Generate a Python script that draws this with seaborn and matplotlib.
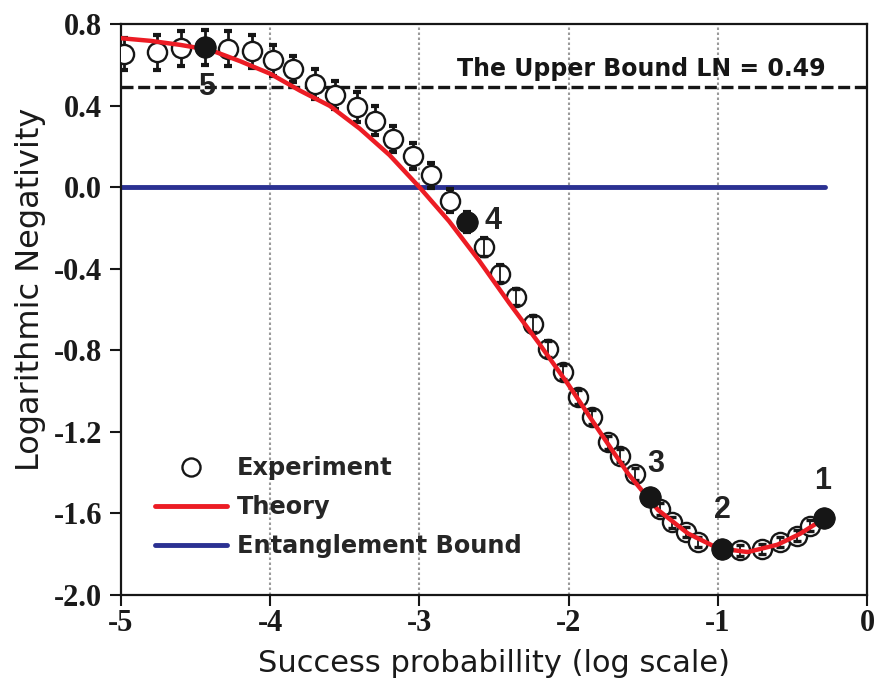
import matplotlib
matplotlib.use("Agg")
import matplotlib.pyplot as plt
from matplotlib.lines import Line2D
import seaborn as sns

# Measured logarithmic negativity versus log10(success probability)
exp_logp = [-4.98, -4.76, -4.60, -4.44, -4.28, -4.12, -3.98, -3.845, -3.70, -3.565,
            -3.42, -3.30, -3.175, -3.04, -2.92, -2.795, -2.68, -2.57, -2.46, -2.35,
            -2.24, -2.135, -2.035, -1.935, -1.84, -1.735, -1.655, -1.555, -1.455, -1.39,
            -1.31, -1.21, -1.13, -0.975, -0.85, -0.705, -0.585, -0.47, -0.38, -0.29]
exp_ln = [0.653, 0.661, 0.681, 0.686, 0.678, 0.665, 0.621, 0.580, 0.506, 0.452,
          0.392, 0.326, 0.237, 0.152, 0.057, -0.066, -0.172, -0.294, -0.425, -0.539,
          -0.670, -0.793, -0.907, -1.030, -1.127, -1.250, -1.316, -1.405, -1.520, -1.577,
          -1.642, -1.691, -1.740, -1.773, -1.781, -1.776, -1.740, -1.708, -1.659, -1.620]
exp_err = [0.080, 0.085, 0.085, 0.085, 0.085, 0.080, 0.075, 0.065, 0.075, 0.068,
           0.075, 0.070, 0.065, 0.065, 0.060, 0.055, 0.050, 0.045, 0.042, 0.040,
           0.040, 0.038, 0.036, 0.035, 0.034, 0.032, 0.030, 0.030, 0.028, 0.028,
           0.027, 0.026, 0.026, 0.025, 0.025, 0.025, 0.025, 0.025, 0.025, 0.025]

# Highlighted experimental points and their numbering
marked_idx = [39, 33, 28, 16, 3]
marked_labels = ["1", "2", "3", "4", "5"]
marked_offsets = [(-1, 26.5), (1, 28), (4, 24), (18.5, 1), (1.5, -29)]

# Theoretical curve
theory_logp = [-5.0, -4.8, -4.6, -4.4, -4.2, -4.0, -3.8, -3.6, -3.4, -3.2,
               -3.0, -2.8, -2.6, -2.4, -2.2, -2.0, -1.8, -1.6, -1.4, -1.2,
               -1.0, -0.8, -0.6, -0.45, -0.32]
theory_ln = [0.730, 0.717, 0.697, 0.672, 0.617, 0.556, 0.473, 0.398, 0.287, 0.157,
             0.0, -0.168, -0.360, -0.566, -0.764, -0.970, -1.190, -1.406, -1.583, -1.698,
             -1.770, -1.789, -1.753, -1.700, -1.640]

# Entanglement bound (LN = 0) and the upper bound
bound_logp = [-5.0, -0.28]
bound_ln = [0.0, 0.0]
upper_bound = 0.49

x_ticks = [-5, -4, -3, -2, -1, 0]
x_ticklabels = ["-5", "-4", "-3", "-2", "-1", "0"]
y_ticks = [-2.0, -1.6, -1.2, -0.8, -0.4, 0.0, 0.4, 0.8]
y_ticklabels = ["-2.0", "-1.6", "-1.2", "-0.8", "-0.4", "0.0", "0.4", "0.8"]

RED = "#ec1c24"
BLUE = "#2b3192"
INK = "#161616"

sns.set_theme(style="white")
plt.rcParams["font.family"] = ["DejaVu Sans"]

fig, ax = plt.subplots(figsize=(8.74, 6.84), dpi=100)
fig.subplots_adjust(left=0.1384, right=0.992, bottom=0.130, top=0.965)

# dotted vertical guides
for gx in x_ticks[1:-1]:
    ax.axvline(gx, color="#9a9a9a", lw=1.5, ls=(0, (1.2, 1.2)), zorder=0)

# upper bound
ax.axhline(upper_bound, color=INK, lw=2.4, ls=(0, (3.6, 1.4)), zorder=1)
ax.text(-2.748, 0.547, "The Upper Bound LN = 0.49", ha="left", va="baseline",
        fontsize=17, fontweight="heavy", color=INK, family="DejaVu Sans")

# entanglement bound
sns.lineplot(x=bound_logp, y=bound_ln, color=BLUE, lw=3.5, ax=ax, zorder=2,
             estimator=None, sort=False)

# experimental error bars and open circles
ax.errorbar(exp_logp, exp_ln, yerr=exp_err, fmt="none", ecolor=INK,
            elinewidth=2.0, capsize=3.0, capthick=3.0, zorder=2)
sns.scatterplot(x=exp_logp, y=exp_ln, marker="o", s=13.8 ** 2, color="white",
                edgecolor=INK, linewidth=1.7, ax=ax, zorder=3)
small = [i for i, e in enumerate(exp_err) if e <= 0.045]
ax.errorbar([exp_logp[i] for i in small], [exp_ln[i] for i in small],
            yerr=[exp_err[i] for i in small], fmt="none", ecolor=INK,
            elinewidth=1.3, capsize=2.6, capthick=2.4, zorder=3.5)

# theory
sns.lineplot(x=theory_logp, y=theory_ln, color=RED, lw=3.2, ax=ax, zorder=4,
             estimator=None, sort=False)

# highlighted points
mx = [exp_logp[i] for i in marked_idx]
my = [exp_ln[i] for i in marked_idx]
sns.scatterplot(x=mx, y=my, marker="o", s=15.5 ** 2, color=INK, edgecolor=INK,
                linewidth=0.5, ax=ax, zorder=6)
for x, y, lab, off in zip(mx, my, marked_labels, marked_offsets):
    ax.annotate(lab, (x, y), xytext=off, textcoords="offset points",
                ha="center", va="center", fontsize=22, color="#222222",
                fontweight="bold", family="Liberation Sans", zorder=7)

ax.set_xlim(-5, 0)
ax.set_ylim(-2.0, 0.8)
ax.set_xticks(x_ticks)
ax.set_yticks(y_ticks)
tick_font = dict(family="Liberation Serif", weight="bold", size=22, color="#1a1a1a")
ax.set_xticklabels(x_ticklabels, **tick_font)
ax.set_yticklabels(y_ticklabels, **tick_font)
ax.tick_params(axis="both", direction="out", length=8, width=1.5, color=INK,
               bottom=True, left=True, top=False, right=False)
ax.tick_params(axis="y", pad=5.5)
ax.tick_params(axis="x", pad=2.0)

for sp in ax.spines.values():
    sp.set_visible(True)
    sp.set_color(INK)
    sp.set_linewidth(1.6)

ax.set_xlabel("Success probabillity (log scale)", fontsize=22, color="#1a1a1a")
ax.set_ylabel("Logarithmic Negativity", fontsize=23, color="#1a1a1a")
ax.xaxis.set_label_coords(0.5, -0.094)
ax.yaxis.set_label_coords(-0.101, 0.535)

handles = [
    Line2D([], [], ls="none", marker="o", ms=13, mfc="white", mec=INK, mew=1.7),
    Line2D([], [], color=RED, lw=3.5),
    Line2D([], [], color=BLUE, lw=3.5),
]
ax.legend(handles, ["Experiment", "Theory", "Entanglement Bound"],
          loc="upper left", bbox_to_anchor=(0.0456, 0.243), frameon=False,
          prop=dict(family="DejaVu Sans", weight="heavy", size=17.3),
          handlelength=3.0, handletextpad=0.4, labelspacing=0.62,
          borderaxespad=0, borderpad=0)

fig.savefig("out.png", dpi=100)
